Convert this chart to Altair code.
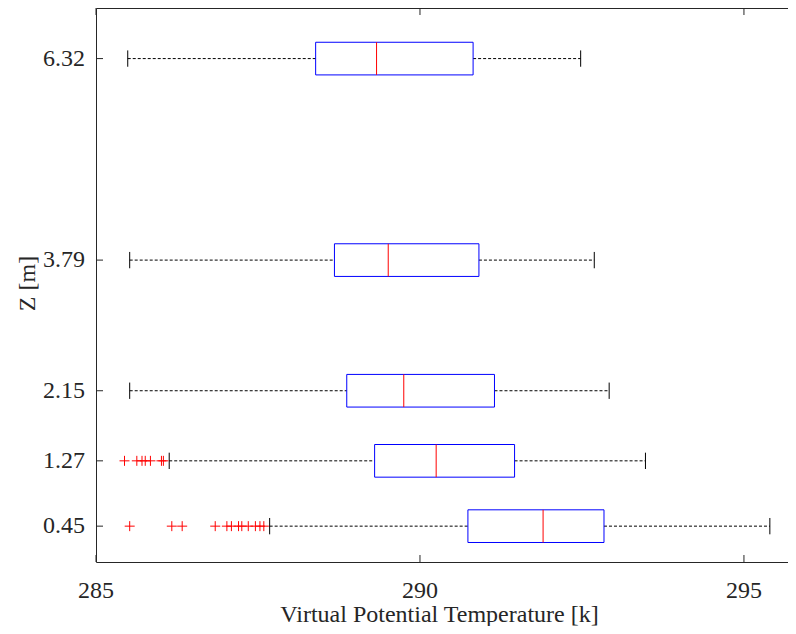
import altair as alt
import pandas as pd

# ---- data ----
z_levels = [0.45, 1.27, 2.15, 3.79, 6.32]
whisker_low = [287.68, 286.13, 285.52, 285.52, 285.49]
q1 = [290.74, 289.30, 288.87, 288.68, 288.39]
median = [291.90, 290.25, 289.75, 289.51, 289.33]
q3 = [292.84, 291.46, 291.15, 290.91, 290.82]
whisker_high = [295.40, 293.48, 292.92, 292.69, 292.48]

outliers_045 = [285.52, 286.17, 286.33, 286.84, 287.02, 287.09, 287.20,
                287.25, 287.35, 287.46, 287.53, 287.59]
outliers_127 = [285.44, 285.63, 285.71, 285.76, 285.84, 286.01, 286.04]

x_ticks = [285, 290, 295]
y_ticks = z_levels

# ---- styling constants ----
BOX_HALF = 0.205
CAP_HALF = 0.1025
FONT = "Liberation Serif"
AX = "#262626"
FS = 24
W, H = 692, 554
TICK = 7

stats = pd.DataFrame({
    "z": z_levels, "wlo": whisker_low, "q1": q1,
    "med": median, "q3": q3, "whi": whisker_high,
})
outs = pd.DataFrame({
    "z": [0.45] * len(outliers_045) + [1.27] * len(outliers_127),
    "v": outliers_045 + outliers_127,
})
xt = pd.DataFrame({"t": x_ticks})
yt = pd.DataFrame({"t": y_ticks})

xscale = alt.Scale(domain=[285, 295.68], nice=False, zero=False)
yscale = alt.Scale(domain=[0, 6.955], nice=False, zero=False)

left_axis = alt.Axis(orient="left", ticks=False, tickSize=0, labels=False,
                     domain=True, domainColor=AX, domainWidth=1, grid=False,
                     title="Z [m]", titleX=-69, titleY=275, titleAngle=270,
                     titleAlign="center", titleBaseline="middle",
                     titleFont=FONT, titleFontSize=FS, titleColor=AX,
                     titleFontWeight="normal")

bottom_axis = alt.Axis(orient="bottom", ticks=False, tickSize=0, labels=False,
                       domain=True, domainColor=AX, domainWidth=1, grid=False,
                       title="Virtual Potential Temperature [k]",
                       titleX=343, titleY=59, titleAlign="center",
                       titleBaseline="alphabetic", titleFont=FONT,
                       titleFontSize=FS, titleColor=AX,
                       titleFontWeight="normal")

top_axis = alt.Axis(orient="top", ticks=False, tickSize=0, domain=True,
                    domainColor=AX, domainWidth=1, grid=False, labels=False,
                    title=None)

base = alt.Chart(stats)

wl = base.mark_rule(color="black", strokeWidth=1, strokeDash=[3, 2]).encode(
    x=alt.X("wlo:Q", scale=xscale, axis=bottom_axis),
    x2="q1:Q",
    y=alt.Y("z:Q", scale=yscale, axis=left_axis),
)
wh = base.mark_rule(color="black", strokeWidth=1, strokeDash=[3, 2]).encode(
    x=alt.X("q3:Q", scale=xscale, axis=top_axis),
    x2="whi:Q",
    y=alt.Y("z:Q", scale=yscale, axis=None),
)

caps = base.transform_calculate(
    clo=f"datum.z - {CAP_HALF}", chi=f"datum.z + {CAP_HALF}"
)
cap_lo = caps.mark_rule(color="black", strokeWidth=1).encode(
    x=alt.X("wlo:Q", scale=xscale, axis=None),
    y=alt.Y("clo:Q", scale=yscale, axis=None),
    y2="chi:Q",
)
cap_hi = caps.mark_rule(color="black", strokeWidth=1).encode(
    x=alt.X("whi:Q", scale=xscale, axis=None),
    y=alt.Y("clo:Q", scale=yscale, axis=None),
    y2="chi:Q",
)

boxes = base.transform_calculate(
    lo=f"datum.z - {BOX_HALF}", hi=f"datum.z + {BOX_HALF}"
)
box = boxes.mark_rect(fill="white", fillOpacity=0, stroke="#0000FF",
                      strokeWidth=1).encode(
    x=alt.X("q1:Q", scale=xscale, axis=None),
    x2="q3:Q",
    y=alt.Y("lo:Q", scale=yscale, axis=None),
    y2="hi:Q",
)
med = boxes.mark_rule(color="#FF0000", strokeWidth=1).encode(
    x=alt.X("med:Q", scale=xscale, axis=None),
    y=alt.Y("lo:Q", scale=yscale, axis=None),
    y2="hi:Q",
)

pts = alt.Chart(outs).mark_point(
    shape="M-1,0H1M0,-1V1", filled=False, color="#FF0000", size=100,
    strokeWidth=1, opacity=1,
).encode(
    x=alt.X("v:Q", scale=xscale, axis=None),
    y=alt.Y("z:Q", scale=yscale, axis=None),
)

# inward-pointing tick marks (MATLAB style)
ytick_marks = alt.Chart(yt).mark_rule(color=AX, strokeWidth=1).encode(
    y=alt.Y("t:Q", scale=yscale, axis=None),
    x=alt.value(0), x2=alt.value(TICK),
)
xtick_bottom = alt.Chart(xt).mark_rule(color=AX, strokeWidth=1).encode(
    x=alt.X("t:Q", scale=xscale, axis=None),
    y=alt.value(H), y2=alt.value(H - TICK),
)
xtick_top = alt.Chart(xt).mark_rule(color=AX, strokeWidth=1).encode(
    x=alt.X("t:Q", scale=xscale, axis=None),
    y=alt.value(0), y2=alt.value(TICK),
)

# tick labels
ytick_labels = alt.Chart(yt).mark_text(
    align="right", baseline="middle", dx=-11, font=FONT, fontSize=FS,
    color=AX,
).encode(
    y=alt.Y("t:Q", scale=yscale, axis=None),
    x=alt.value(0),
    text=alt.Text("t:Q", format=".2f"),
)
xtick_labels = alt.Chart(xt).mark_text(
    align="center", baseline="middle", font=FONT, fontSize=FS, color=AX,
).encode(
    x=alt.X("t:Q", scale=xscale, axis=None),
    y=alt.value(H + 29),
    text=alt.Text("t:Q", format="d"),
)

chart = alt.layer(
    wl, wh, cap_lo, cap_hi, box, med, pts,
    ytick_marks, xtick_bottom, xtick_top, ytick_labels, xtick_labels,
).resolve_axis(
    x="independent", y="independent"
).properties(
    width=W, height=H,
    padding={"left": 88, "top": 0, "right": 0, "bottom": 64},
    autosize=alt.AutoSizeParams(type="none"),
    background="white",
).configure_view(stroke="transparent", strokeWidth=0)

chart.save("out.html", embed_options={"renderer": "svg", "actions": False})
